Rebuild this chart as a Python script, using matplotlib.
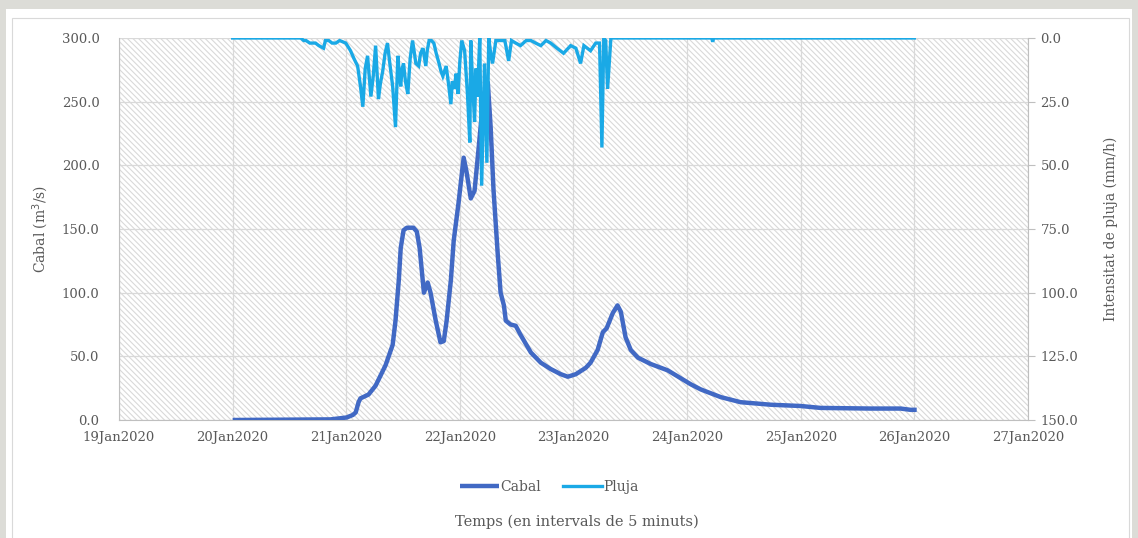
import numpy as np
import pandas as pd
import matplotlib
matplotlib.use("Agg")
import matplotlib.pyplot as plt
import matplotlib.dates as mdates
from matplotlib.patches import Rectangle

plt.rcParams['font.family'] = ['DejaVu Serif']
plt.rcParams['hatch.color'] = '#d9d9d9'
plt.rcParams['hatch.linewidth'] = 0.8

T0 = pd.Timestamp("2020-01-20 00:00")

# cabal (m3/s), hores des de 20Jan2020 00:00
cabal_h = [0, 20.7, 24.1, 25.4, 26.0, 26.6, 27.0, 28.7, 30.2, 32.3, 33.8, 34.4,
           35.1, 35.5, 36.1, 36.8, 38.2, 38.9, 39.5, 40.4, 41.2, 41.8, 42.9,
           43.9, 44.6, 45.2, 46.1, 46.7, 47.7, 48.8, 49.4, 50.3, 51.1, 52.0,
           53.0, 53.9, 54.5, 55.1, 56.0, 56.6, 57.3, 57.7, 58.7, 59.8, 60.8,
           63.0, 65.1, 67.2, 69.3, 70.8, 72.5, 74.6, 75.6, 77.1, 78.2, 79.0,
           80.3, 81.3, 82.0, 83.0, 84.1, 85.6, 88.3, 91.9, 96.8, 98.9, 103.1,
           107.3, 113.7, 120.0, 124.2, 134.8, 141.1, 143.2, 144.5]
cabal_q = [0, 0.5, 2, 4, 6, 14, 17, 20, 27, 43, 59, 78,
           110, 135, 149, 151, 151, 148, 135, 100, 108, 100, 78,
           61, 62, 78, 110, 141, 170, 206, 195, 174, 180, 215,
           255, 265, 230, 181, 130, 100, 90, 78, 75, 74, 67,
           53, 45, 40, 36, 34, 36, 41, 45, 55, 69, 72,
           84, 90, 85, 65, 55, 49, 44, 39, 28, 24, 18,
           14, 12, 11, 9.5, 9, 9, 8, 8]

# intensitat de pluja (mm/h)
pluja_h = [0, 14.4, 15.0, 15.5, 16.3, 17.5, 18.2, 19.2, 19.6, 20.3, 21.0, 21.8,
           22.6, 23.9, 24.9, 25.6, 26.4, 27.0, 27.5, 28.0, 28.5, 29.2, 29.7,
           30.2, 30.8, 31.2, 31.7, 32.2, 32.7, 33.2, 33.8, 34.4, 34.9, 35.2,
           35.5, 35.8, 36.1, 36.5, 37.0, 37.5, 38.0, 38.4, 38.7, 39.3, 39.7,
           40.2, 40.8, 41.1, 41.5, 42.0, 42.5, 43.0, 43.6, 44.0, 44.4, 45.1,
           45.6, 46.1, 46.4, 46.8, 47.2, 47.6, 48.0, 48.4, 49.0, 49.6, 50.1,
           50.3, 50.7, 51.1, 51.4, 51.7, 52.2, 52.6, 53.2, 53.7, 54.1, 54.5,
           54.9, 55.6, 56.6, 57.5, 58.3, 58.9, 59.8, 60.8, 62.0, 63.0, 64.0,
           65.1, 66.2, 67.2, 68.5, 69.9, 71.4, 72.5, 73.5, 74.2, 75.6, 76.7,
           77.5, 78.0, 78.4, 78.8, 79.2, 79.9, 101.2, 101.4, 101.6, 144.0]
pluja_i = [0, 0, 1, 1, 2, 2, 3, 4, 1, 1, 2, 2,
           1, 2, 5, 8, 11, 19, 27, 12, 7, 23, 15,
           3, 24, 18, 13, 6, 2, 10, 19, 35, 7, 14,
           19, 12, 10, 17, 22, 8, 1, 6, 10, 11, 6,
           4, 11, 5, 1, 1, 2, 6, 10, 13, 15, 11,
           18, 26, 17, 20, 14, 22, 9, 1, 5, 22, 41,
           1, 18, 33, 12, 23, 0, 58, 10, 49, 0, 6,
           10, 1, 1, 1, 9, 1, 2, 3, 1, 1, 2,
           3, 1, 2, 4, 6, 3, 4, 10, 3, 5, 2,
           2, 43, 0, 1, 20, 0, 0, 1.5, 0, 0]

x_cabal = T0 + pd.to_timedelta(cabal_h, unit="h")
x_pluja = T0 + pd.to_timedelta(pluja_h, unit="h")

fig = plt.figure(figsize=(11.38, 5.38), dpi=100, facecolor='#dcdcd7')
fig.patches.append(Rectangle((6 / 1138, 0), 1126 / 1138, 529 / 538,
                             transform=fig.transFigure, facecolor='white',
                             edgecolor='none', zorder=-2))
fig.patches.append(Rectangle((12 / 1138, -0.01), 1117 / 1138, 520 / 538 + 0.01,
                             transform=fig.transFigure, facecolor='none',
                             edgecolor='#d9d9d9', linewidth=0.8, zorder=-1))

ax = fig.add_axes([0.1046, 0.2193, 0.7987, 0.7101])
ax.patch.set_facecolor('white')
ax.patch.set_hatch('\\' * 6)
ax.patch.set_edgecolor('#d9d9d9')
ax.patch.set_linewidth(0)

ax.plot(x_cabal, cabal_q, color='#4169c4', linewidth=3.2, label='Cabal',
        solid_capstyle='butt', solid_joinstyle='round', zorder=3)
ax.set_xlim(pd.Timestamp("2020-01-19"), pd.Timestamp("2020-01-27"))
ax.set_ylim(0, 300)
ax.set_yticks(np.arange(0, 301, 50))
ax.yaxis.set_major_formatter(matplotlib.ticker.FormatStrFormatter('%.1f'))
ax.xaxis.set_major_locator(mdates.DayLocator())
ax.xaxis.set_major_formatter(mdates.DateFormatter('%d%b%Y'))
ax.grid(True, color='#d9d9d9', linewidth=0.9)
ax.set_axisbelow(True)
ax.tick_params(axis='both', length=0, labelsize=9.5, colors='#595959')
ax.tick_params(axis='x', pad=8)
ax.tick_params(axis='y', pad=14)
for s in ['top', 'right']:
    ax.spines[s].set_visible(False)
for s in ['left', 'bottom']:
    ax.spines[s].set_color('#bfbfbf')
ax.set_ylabel('Cabal (m$^3$/s)', fontsize=10, color='#595959', labelpad=8)

ax2 = ax.twinx()
ax2.plot(x_pluja, pluja_i, color='#1aa9e6', linewidth=2.4, label='Pluja',
         solid_joinstyle='miter', zorder=4)
ax2.set_ylim(150, 0)
ax2.set_yticks(np.arange(0, 151, 25))
ax2.yaxis.set_major_formatter(matplotlib.ticker.FormatStrFormatter('%.1f'))
ax2.tick_params(axis='y', length=5, color='#bfbfbf', labelsize=9.5,
                colors='#595959', pad=4)
ax2.tick_params(axis='y', color='#bfbfbf')
for s in ['top', 'left', 'bottom']:
    ax2.spines[s].set_visible(False)
ax2.spines['right'].set_color('#bfbfbf')
ax2.set_ylabel('Intensitat de pluja (mm/h)', fontsize=10, color='#595959',
               labelpad=18)

h1, l1 = ax.get_legend_handles_labels()
h2, l2 = ax2.get_legend_handles_labels()
leg = fig.legend(h1 + h2, l1 + l2, loc='center', ncol=2, frameon=False,
                 bbox_to_anchor=(0.483, 1 - 487 / 538), fontsize=10,
                 handlelength=2.8, handletextpad=0.1, columnspacing=1.6)
for t in leg.get_texts():
    t.set_color('#595959')

fig.text(577 / 1138, 1 - 522 / 538, 'Temps (en intervals de 5 minuts)',
         ha='center', va='center', fontsize=10.5, color='#595959')

fig.savefig('out.png', dpi=100, facecolor=fig.get_facecolor())
